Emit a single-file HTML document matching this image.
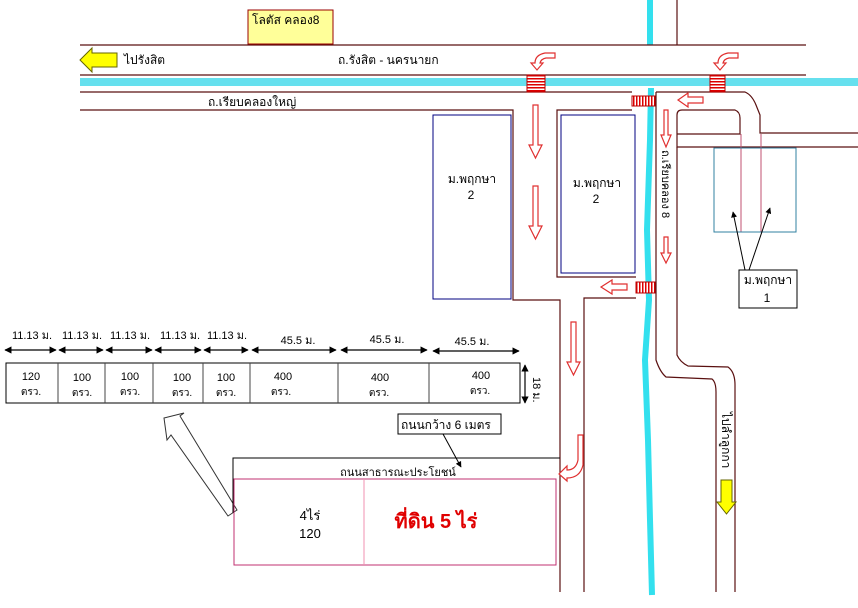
<!DOCTYPE html>
<html><head><meta charset="utf-8"><style>
html,body{margin:0;padding:0;background:#fff;}
svg{display:block;font-family:"Liberation Sans","Noto Sans CJK SC","WenQuanYi Zen Hei",sans-serif;}
</style></head><body>
<svg width="858" height="608" viewBox="0 0 858 608" xmlns="http://www.w3.org/2000/svg">
<defs>
<marker id="ab" viewBox="0 0 10 10" refX="9" refY="5" markerWidth="6" markerHeight="6" orient="auto-start-reverse"><path d="M0,0 L10,5 L0,10 z" fill="#000"/></marker>
<pattern id="st" width="4" height="3" patternUnits="userSpaceOnUse"><rect width="4" height="3" fill="#fff"/><rect width="4" height="1.5" fill="#d00"/></pattern>
<pattern id="sv" width="3" height="4" patternUnits="userSpaceOnUse"><rect width="3" height="4" fill="#fff"/><rect width="1.5" height="4" fill="#d00"/></pattern>
</defs>
<!-- canal -->
<path d="M80,82 L858,82" stroke="#66e0ee" stroke-width="8"/>
<path d="M650,0 L650,45 M651,88 L650,140 L647,230 L649,300 L645,360 L648,440 L650,520 L652,595" stroke="#33e0ee" stroke-width="6" fill="none"/>
<g stroke="#5a1010" stroke-width="1.2" fill="none">
<path d="M80,45 L806,45 M80,75 L806,75"/>
<path d="M677,0 L677,45"/>
<path d="M80,92 L632,92 M80,110 L513,110 L513,300 L560,300 L560,592"/>
<path d="M632,110 L557,110 L557,277 L636,277"/>
<path d="M636,298 L584,298 L584,592"/>
<path d="M656,92 L745,92 Q752,95 756,105 L760,115 L760,133 L858,133"/>
<path d="M858,147 L677,147 L677,134 M677,134 L677,115 Q677,110 682,110 L735,110 Q740,112 740,118 L740,134 L677,134"/>
<path d="M656,92 L656,360 Q660,372 666,377 L712,379 Q716,382 716,392 L716,592"/>
<path d="M677,147 L677,355 Q680,362 688,366 L728,367 Q735,372 735,385 L735,592"/>
</g>
<path d="M741,134 L741,232 M761,134 L761,232" stroke="#c05070" stroke-width="1"/>
<!-- lotus -->
<rect x="248" y="10" width="85" height="34" fill="#ffff99" stroke="#900" stroke-width="1"/>
<text x="252" y="24" font-size="12">โลตัส คลอง8</text>
<!-- yellow arrow left -->
<path d="M117,53 L92,53 L92,48 L80,60 L92,72 L92,67 L117,67 Z" fill="#ff0" stroke="#660" stroke-width="1"/>
<text x="124" y="64" font-size="12">ไปรังสิต</text>
<text x="338" y="64" font-size="12">ถ.รังสิต - นครนายก</text>
<text x="208" y="106" font-size="12">ถ.เรียบคลองใหญ่</text>
<!-- crossings -->
<rect x="527" y="75" width="18" height="17" fill="url(#st)" stroke="#b00"/>
<rect x="710" y="75" width="15" height="17" fill="url(#st)" stroke="#b00"/>
<rect x="632" y="96" width="23" height="10" fill="url(#sv)" stroke="#b00"/>
<rect x="636" y="282" width="19" height="11" fill="url(#sv)" stroke="#b00"/>
<!-- curved arrows -->
<g fill="#fff" stroke="#e03030" stroke-width="1.2">
<path d="M555,53 L545,53 Q535,55 535,63 L531,63 L537,70 L543,63 L540,63 Q541,59 546,58 L555,58 Z"/>
<path d="M738,53 L728,53 Q718,55 718,63 L714,63 L720,70 L726,63 L723,63 Q724,59 729,58 L738,58 Z"/>
<path d="M533,105 L538,105 L538,145 L542,145 L535.5,158 L529,145 L533,145 Z"/>
<path d="M533,186 L538,186 L538,226 L542,226 L535.5,239 L529,226 L533,226 Z"/>
<path d="M664,110 L668,110 L668,135 L671,135 L666,147 L661,135 L664,135 Z"/>
<path d="M664,237 L668,237 L668,253 L671,253 L666,263 L661,253 L664,253 Z"/>
<path d="M571,322 L576,322 L576,362 L580,362 L573.5,375 L567,362 L571,362 Z"/>
<path d="M703,97 L688,97 L688,93 L678,100 L688,107 L688,103 L703,103 Z"/>
<path d="M627,284 L612,284 L612,280 L601,287 L612,294 L612,290 L627,290 Z"/>
<path d="M578,435 L583,435 L583,465 Q580,478 567,478 L567,481 L559,474 L567,466 L567,470 Q576,470 578,460 Z"/>
</g>
<!-- blue boxes -->
<rect x="433" y="115" width="78" height="184" fill="none" stroke="#000080" stroke-width="1"/>
<text x="472" y="183" font-size="12" text-anchor="middle">ม.พฤกษา</text>
<text x="471" y="199" font-size="12" text-anchor="middle">2</text>
<rect x="561" y="115" width="74" height="158" fill="none" stroke="#000080" stroke-width="1"/>
<text x="597" y="187" font-size="12" text-anchor="middle">ม.พฤกษา</text>
<text x="596" y="203" font-size="12" text-anchor="middle">2</text>
<rect x="714" y="148" width="82" height="84" fill="none" stroke="#3080a0" stroke-width="1"/>
<rect x="739" y="270" width="58" height="38" fill="#fff" stroke="#000" stroke-width="1"/>
<text x="768" y="284" font-size="12" text-anchor="middle">ม.พฤกษา</text>
<text x="767" y="302" font-size="12" text-anchor="middle">1</text>
<path d="M745,270 L733,212" stroke="#000" stroke-width="1" marker-end="url(#ab)"/>
<path d="M749,270 L770,208" stroke="#000" stroke-width="1" marker-end="url(#ab)"/>
<text transform="translate(662,150) rotate(90)" font-size="11">ถ.เรียบคลอง 8</text>
<!-- dimension row -->
<g stroke="#000" stroke-width="1.2" marker-start="url(#ab)" marker-end="url(#ab)">
<path d="M5,350 L56,350"/><path d="M59,350 L103,350"/><path d="M106,350 L152,350"/><path d="M155,350 L201,350"/><path d="M204,350 L248,350"/><path d="M252,350 L336,350"/><path d="M341,350 L427,350"/><path d="M433,351 L519,351"/>
<path d="M525,365 L525,403"/>
</g>
<g font-size="11" text-anchor="middle">
<text x="32" y="339">11.13 ม.</text><text x="82" y="339">11.13 ม.</text><text x="130" y="339">11.13 ม.</text><text x="180" y="339">11.13 ม.</text><text x="227" y="339">11.13 ม.</text>
<text x="298" y="344">45.5 ม.</text><text x="387" y="343">45.5 ม.</text><text x="472" y="345">45.5 ม.</text>
</g>
<rect x="6" y="363" width="514" height="40" fill="none" stroke="#000" stroke-width="1"/>
<path d="M58,363 L58,403 M105,363 L105,403 M153,363 L153,403 M203,363 L203,403 M250,363 L250,403 M338,363 L338,403 M429,363 L429,403" stroke="#444" stroke-width="1"/>
<g font-size="11" text-anchor="middle">
<text x="31" y="380">120</text><text x="31" y="395" font-size="10">ตรว.</text>
<text x="82" y="381">100</text><text x="82" y="396" font-size="10">ตรว.</text>
<text x="130" y="380">100</text><text x="130" y="395" font-size="10">ตรว.</text>
<text x="182" y="381">100</text><text x="182" y="396" font-size="10">ตรว.</text>
<text x="226" y="381">100</text><text x="226" y="396" font-size="10">ตรว.</text>
<text x="283" y="380">400</text><text x="281" y="395" font-size="10">ตรว.</text>
<text x="380" y="381">400</text><text x="379" y="396" font-size="10">ตรว.</text>
<text x="481" y="379">400</text><text x="480" y="394" font-size="10">ตรว.</text>
</g>
<text transform="translate(533,377) rotate(90)" font-size="11">18 ม.</text>
<!-- hollow arrow -->
<path d="M237,510 L180,416 L184,413 L164,418 L167,440 L171,435 L228,516 Z" fill="#fff" stroke="#333" stroke-width="1"/>
<!-- road label box -->
<rect x="398" y="414" width="103" height="20" fill="#fff" stroke="#000" stroke-width="1"/>
<text x="401" y="429" font-size="12">ถนนกว้าง 6 เมตร</text>
<path d="M443,434 L461,467" stroke="#000" stroke-width="1" marker-end="url(#ab)"/>
<path d="M233,513 L233,458 L560,458" fill="none" stroke="#000" stroke-width="1"/>
<text x="398" y="476" font-size="11" text-anchor="middle">ถนนสาธารณะประโยชน์</text>
<rect x="234" y="479" width="322" height="86" fill="none" stroke="#c03070" stroke-width="1"/>
<path d="M364,479 L364,565" stroke="#f090b0" stroke-width="1"/>
<text x="310" y="520" font-size="13" text-anchor="middle">4ไร่</text>
<text x="310" y="538" font-size="13" text-anchor="middle">120</text>
<text x="436" y="528" font-size="20" font-weight="bold" fill="#e00000" text-anchor="middle">ที่ดิน 5 ไร่</text>
<!-- lamlukka -->
<text transform="translate(722,412) rotate(90)" font-size="12">ไปลำลูกกา</text>
<path d="M721,480 L732,480 L732,502 L736,502 L726.5,514 L717,502 L721,502 Z" fill="#ff0" stroke="#660" stroke-width="1"/>
</svg>
</body></html>
